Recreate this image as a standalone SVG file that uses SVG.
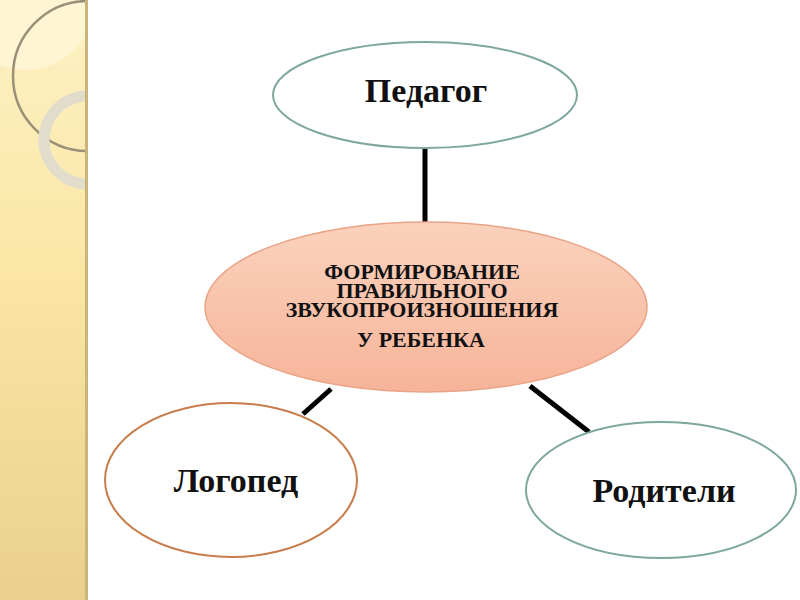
<svg xmlns="http://www.w3.org/2000/svg" width="800" height="600" viewBox="0 0 800 600">
  <defs>
    <linearGradient id="strip" x1="0" y1="0" x2="0" y2="1">
      <stop offset="0" stop-color="#fdf1c4"/>
      <stop offset="0.45" stop-color="#fbe6a6"/>
      <stop offset="1" stop-color="#e9d08c"/>
    </linearGradient>
    <linearGradient id="centerFill" x1="0" y1="0" x2="0" y2="1">
      <stop offset="0" stop-color="#fbd2bd"/>
      <stop offset="1" stop-color="#f6b499"/>
    </linearGradient>
    <clipPath id="stripClip">
      <rect x="0" y="0" width="87" height="600"/>
    </clipPath>
    <style>
      .node-text { font-family: "Liberation Serif", "Times New Roman", serif; font-weight: bold; fill: #111111; text-anchor: middle; }
      .big { font-size: 34px; }
      .small { font-size: 22px; }
      .outer { fill: #ffffff; stroke-width: 2; }
      .teal { stroke: #7ea79f; }
      .brown { stroke: #c87d4c; }
      .conn { stroke: #000000; stroke-width: 5; fill: none; }
    </style>
  </defs>

  <rect x="0" y="0" width="800" height="600" fill="#ffffff"/>

  <g id="background-strip">
    <rect x="0" y="0" width="87" height="600" fill="url(#strip)"/>
    <g clip-path="url(#stripClip)">
      <circle cx="25" cy="0" r="70" fill="#fff8df" opacity="0.6"/>
      <circle cx="88" cy="76" r="75" fill="none" stroke="#9a9078" stroke-width="2.5"/>
      <circle cx="88" cy="140" r="44" fill="none" stroke="#e2dccb" stroke-width="11"/>
    </g>
    <rect x="85" y="0" width="3" height="600" fill="#c9b57a"/>
  </g>

  <g id="connectors">
    <line class="conn" x1="425" y1="148" x2="425" y2="222"/>
    <line class="conn" x1="331" y1="389" x2="303" y2="414"/>
    <line class="conn" x1="530" y1="386" x2="589" y2="432"/>
  </g>

  <g id="node-center">
    <ellipse cx="426" cy="307" rx="221" ry="85" fill="url(#centerFill)" stroke="#eaa386" stroke-width="1.5"/>
    <text class="node-text small" x="422" y="279">ФОРМИРОВАНИЕ</text>
    <text class="node-text small" x="422" y="298">ПРАВИЛЬНОГО</text>
    <text class="node-text small" x="422" y="317">ЗВУКОПРОИЗНОШЕНИЯ</text>
    <text class="node-text small" x="421" y="347">У РЕБЕНКА</text>
  </g>

  <g id="node-pedagog">
    <ellipse class="outer teal" cx="425" cy="95" rx="152" ry="53"/>
    <text class="node-text big" x="426" y="102">Педагог</text>
  </g>

  <g id="node-logoped">
    <ellipse class="outer brown" cx="231" cy="480" rx="126" ry="77"/>
    <text class="node-text big" x="236" y="492">Логопед</text>
  </g>

  <g id="node-roditeli">
    <ellipse class="outer teal" cx="661" cy="490" rx="135" ry="68"/>
    <text class="node-text big" x="664" y="502">Родители</text>
  </g>
</svg>
